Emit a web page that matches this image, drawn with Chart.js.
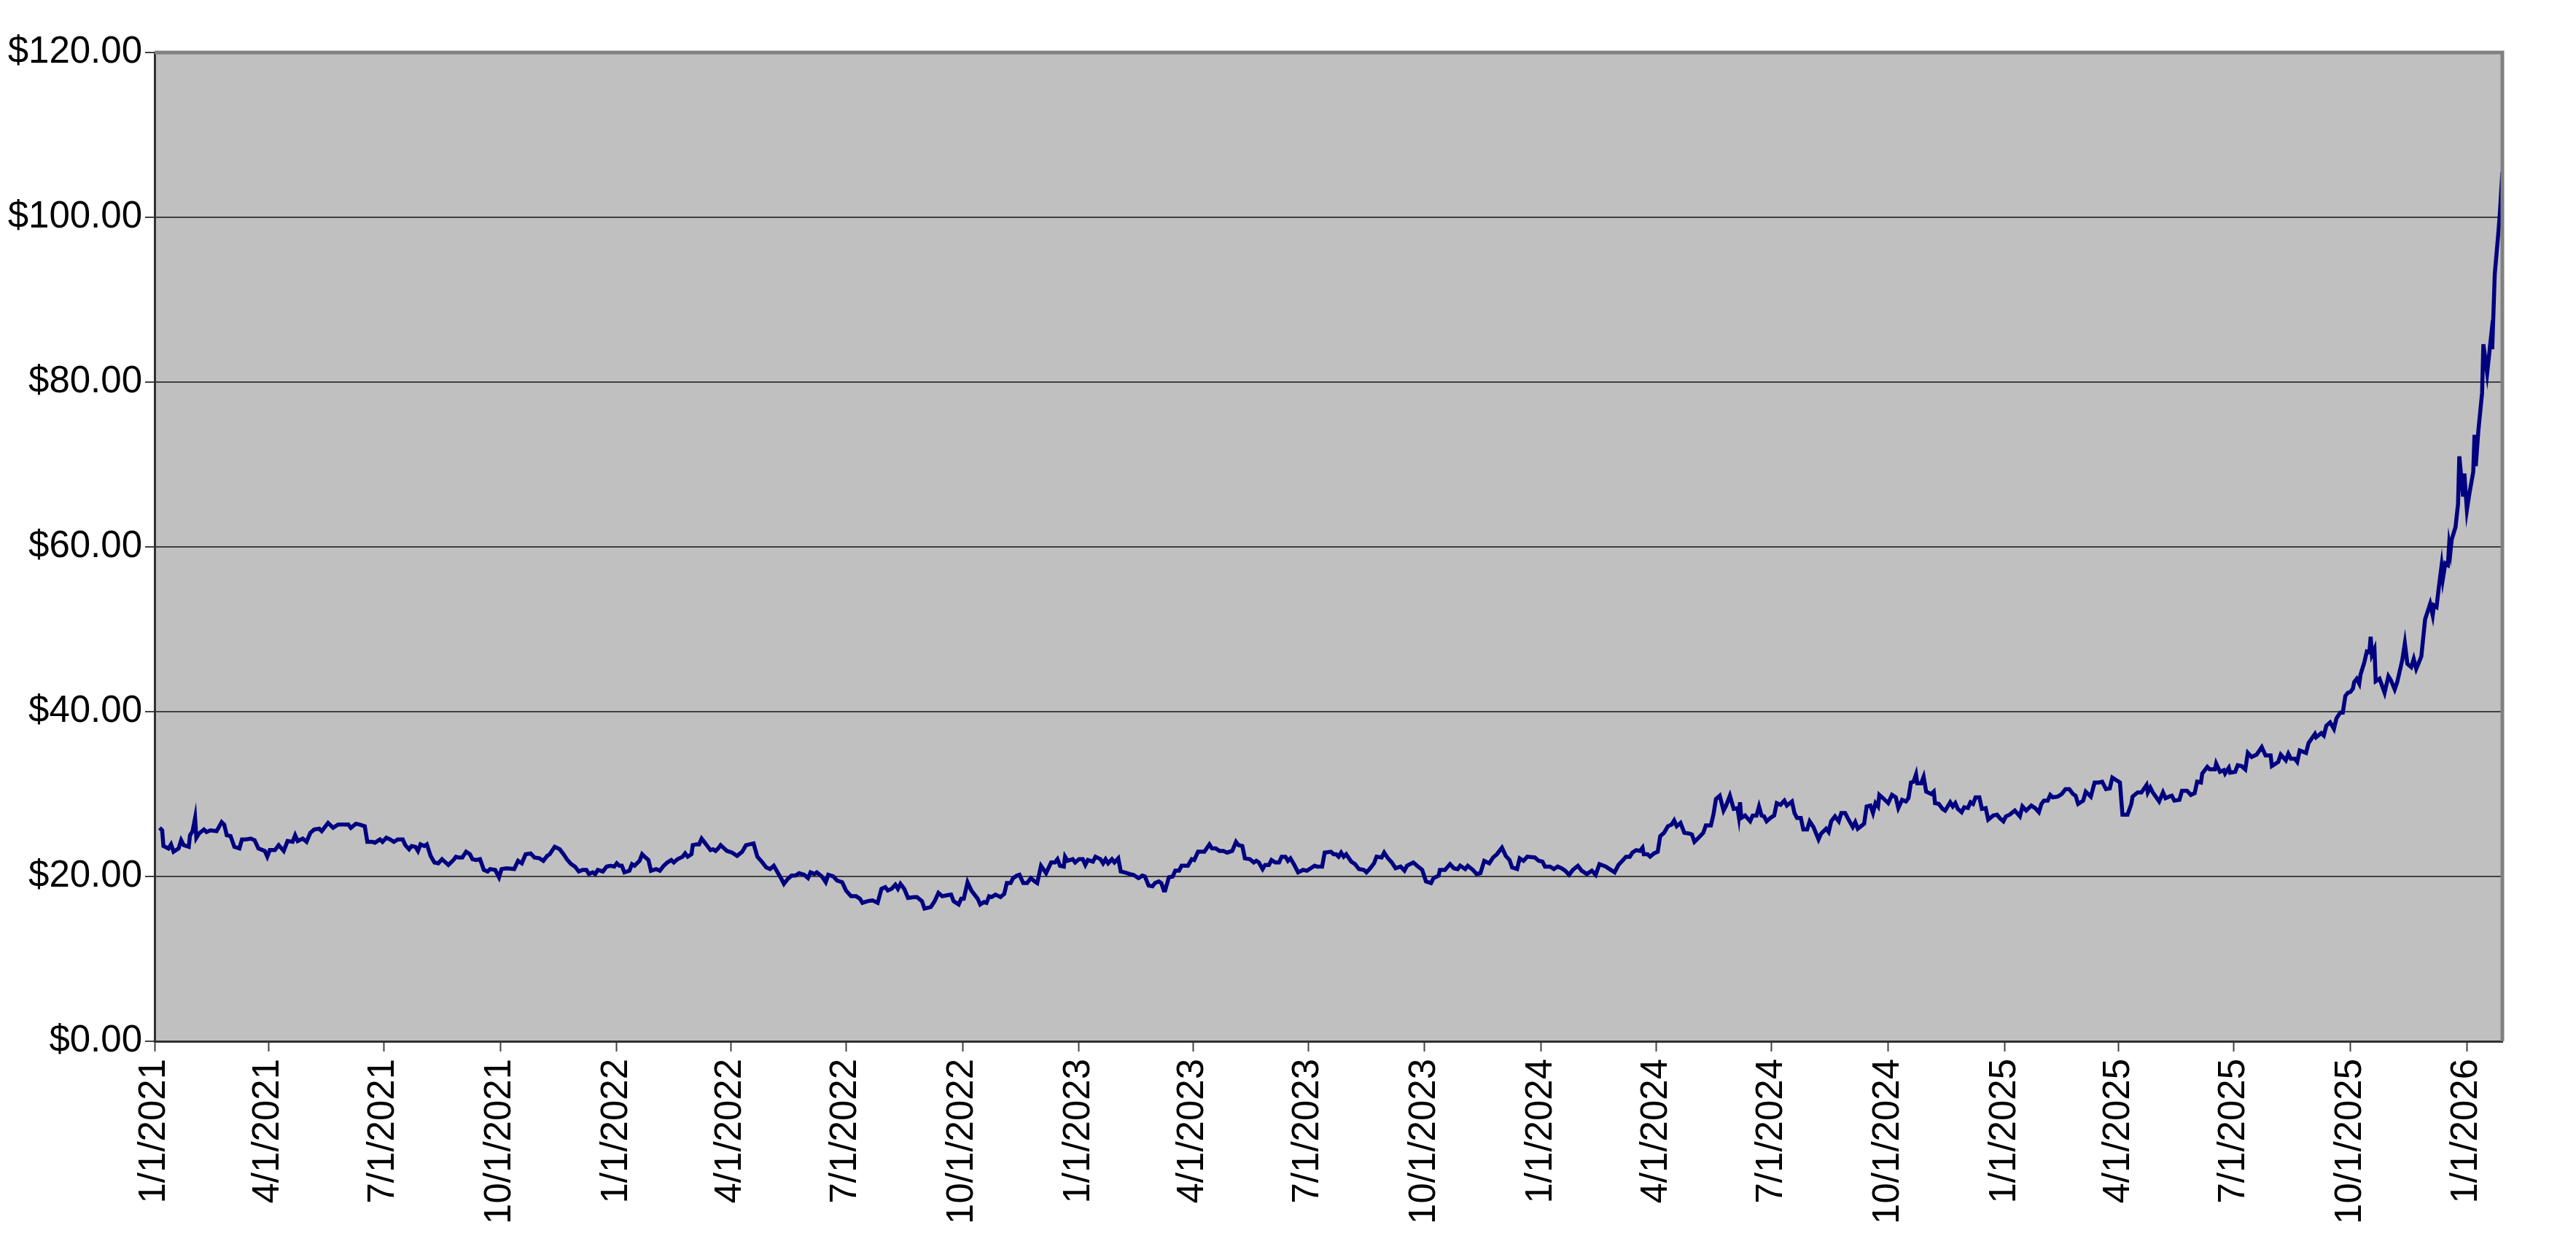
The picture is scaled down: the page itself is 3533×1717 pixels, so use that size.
<!DOCTYPE html>
<html>
<head>
<meta charset="utf-8">
<script src="https://cdn.jsdelivr.net/npm/chart.js@4.4.1/dist/chart.umd.min.js"></script>
<style>
  html, body { margin: 0; padding: 0; background: #ffffff; }
  canvas { display: block; }
</style>
</head>
<body>
<canvas id="pricechart" width="3533" height="1717"></canvas>
<script>
// daily closes; x = days since 1/1/2021
const days = [
  4, 6, 7, 11, 13, 15, 19, 21, 23, 27,
  28, 30, 32, 33, 35, 39, 41, 44, 49, 53,
  55, 57, 60, 63, 67, 69, 72, 76, 79, 82,
  87, 89, 91, 95, 98, 102, 105, 109, 111, 113,
  117, 120, 123, 126, 130, 132, 137, 141, 145, 149,
  153, 155, 159, 162, 166, 168, 172, 174, 178, 180,
  183, 186, 189, 192, 196, 198, 201, 203, 206, 208,
  210, 213, 215, 218, 221, 224, 227, 232, 236, 238,
  240, 243, 246, 249, 251, 254, 257, 260, 263, 265,
  269, 272, 274, 278, 284, 287, 290, 293, 297, 300,
  304, 307,
  310, 312, 316, 320, 323, 326, 329, 332, 335, 338,
  341, 343, 346, 348, 350, 354, 357, 360, 363, 365,
  367, 369, 371, 375, 377, 379, 383, 385, 387, 390,
  392, 396, 399, 402, 405, 408, 410, 413, 417, 419,
  421, 424, 425, 428, 430, 432, 434, 436, 439, 441,
  443, 445, 447, 452, 456, 460, 464, 467, 470, 473,
  476, 480, 483, 486, 489, 492, 495, 497, 500, 503,
  506, 509, 513, 516, 518, 521, 523, 527, 530, 532,
  536, 539, 543, 546, 550, 554, 557, 559, 563, 567,
  571, 574, 577, 579, 582, 585, 587, 589, 592, 595,
  600, 602, 606, 608, 613, 616, 619, 622, 625,
  629, 631, 635, 637, 639, 642, 645, 648, 650, 652,
  655, 657, 659, 661, 664, 668, 671, 673, 676, 678,
  681, 683, 686, 689, 692, 695, 697, 700, 704, 708,
  711, 713, 715, 718, 719, 721, 725, 727, 730, 733,
  735, 737, 741, 743, 747, 749, 751, 753, 756, 758,
  761, 763, 766, 770, 773, 777, 780, 782, 785, 788,
  790, 793, 795, 797, 798, 801, 804, 806, 809, 811,
  816, 819, 821, 824, 829, 833, 835, 838, 841, 844,
  847, 851, 854, 856, 859, 861, 865, 868, 870, 872,
  875, 877, 880, 882, 885, 888, 890, 893, 895, 897,
  900, 903, 907, 910, 913, 916, 918, 922, 924, 929,
  931, 933, 935, 937, 939, 941,
  945, 948, 951, 955, 957, 960, 963, 965, 969, 971,
  974, 977, 980, 984, 987, 989, 994, 997, 1001, 1004,
  1008, 1010, 1014, 1015, 1019, 1023, 1026, 1029, 1031, 1035,
  1037, 1041, 1044, 1047, 1050, 1054, 1057, 1060, 1064, 1067,
  1070, 1072, 1076, 1078, 1081, 1084, 1090, 1093, 1096, 1098,
  1102, 1105, 1108, 1111, 1114, 1117, 1120, 1124, 1127, 1131,
  1135, 1138, 1141, 1146, 1149, 1153, 1156, 1159, 1162, 1165,
  1167, 1170, 1173, 1175, 1176, 1179, 1181, 1184, 1187, 1189,
  1192, 1195, 1198, 1200, 1202, 1205, 1208, 1212, 1214, 1216,
  1218, 1223, 1225, 1229, 1231, 1233, 1236, 1239, 1241, 1244,
  1247, 1250, 1251, 1252, 1253, 1256, 1260,
  1262, 1265, 1267, 1269, 1271, 1273, 1276, 1279, 1281, 1284,
  1287, 1289, 1293, 1295, 1297, 1300, 1302, 1305, 1307, 1310,
  1314, 1316, 1320, 1322, 1324, 1327, 1330, 1332, 1335, 1337,
  1341, 1343, 1345, 1350, 1352, 1355, 1357, 1359, 1361, 1362,
  1365, 1369, 1372, 1375, 1377, 1380, 1383, 1385, 1387, 1389,
  1391, 1392, 1395, 1397, 1399, 1403, 1405, 1406, 1409, 1412,
  1414, 1418, 1420, 1422, 1424, 1427, 1429, 1432, 1434, 1436,
  1438, 1441, 1443, 1446, 1448, 1452, 1455, 1457, 1460, 1462,
  1465, 1469, 1473, 1475, 1478, 1482, 1485, 1488, 1490, 1492,
  1495, 1497, 1499, 1503, 1506, 1509, 1512, 1515, 1517, 1519,
  1523, 1525, 1529, 1532, 1535, 1538, 1541, 1544, 1546, 1549,
  1552, 1554, 1558, 1561, 1562, 1566, 1569, 1573, 1574, 1576,
  1578, 1583, 1586, 1588, 1591, 1593, 1595, 1599, 1601, 1605,
  1608, 1611, 1613, 1616, 1617, 1621, 1623, 1627, 1628, 1631,
  1634, 1635, 1638, 1639, 1643, 1645, 1648, 1651, 1653, 1656,
  1660, 1664, 1667, 1671, 1672, 1677, 1679, 1683, 1685, 1687,
  1690, 1692, 1694, 1699, 1701, 1706, 1707, 1711, 1713, 1715,
  1718, 1721, 1723, 1726, 1728, 1730, 1732, 1734, 1736, 1737,
  1739, 1741, 1742, 1745, 1747, 1749, 1750, 1751, 1753, 1754,
  1757, 1761, 1764, 1766, 1769, 1771, 1775, 1777, 1779, 1782,
  1784, 1786, 1790, 1793, 1797, 1799, 1800, 1802, 1804, 1806,
  1807, 1809, 1811, 1812, 1813, 1814, 1817, 1819, 1820, 1823,
  1824, 1826, 1828, 1831, 1832, 1833, 1835, 1838, 1839, 1842,
  1845, 1846, 1848, 1851, 1852, 1854
];
const prices = [
  25.9, 25.6, 23.7, 23.4, 23.9, 23.0, 23.4, 24.4, 23.8, 23.6,
  25.0, 25.5, 27.1, 24.7, 25.2, 25.7, 25.4, 25.6, 25.5, 26.6,
  26.3, 25.0, 24.9, 23.6, 23.4, 24.5, 24.5, 24.6, 24.4, 23.4,
  23.1, 22.4, 23.2, 23.2, 23.8, 23.1, 24.3, 24.2, 25.0, 24.3,
  24.6, 24.2, 25.3, 25.7, 25.8, 25.5, 26.5, 25.9, 26.3, 26.3,
  26.3, 25.9, 26.4, 26.3, 26.1, 24.2, 24.2, 24.1, 24.5, 24.2,
  24.7, 24.5, 24.2, 24.5, 24.5, 23.8, 23.3, 23.7, 23.6, 23.1,
  23.9, 23.7, 23.9, 22.5, 21.7, 21.6, 22.1, 21.4, 22.0, 22.4,
  22.3, 22.3, 23.0, 22.7, 22.1, 22.0, 22.1, 20.8, 20.6, 20.9,
  20.8, 19.9, 20.9, 21.0, 20.9, 21.9, 21.6, 22.7, 22.8, 22.3,
  22.2, 21.9,
  22.5, 22.7, 23.6, 23.3, 22.7, 22.0, 21.5, 21.2, 20.6, 20.8,
  20.8, 20.3, 20.5, 20.3, 20.8, 20.6, 21.2, 21.3, 21.2, 21.6,
  21.3, 21.3, 20.5, 20.7, 21.5, 21.3, 21.9, 22.7, 22.4, 22.0,
  20.7, 20.9, 20.7, 21.3, 21.7, 22.0, 21.7, 22.1, 22.4, 22.8,
  22.4, 22.7, 23.8, 23.9, 23.9, 24.6, 24.2, 23.8, 23.2, 23.3,
  23.1, 23.4, 23.8, 23.1, 22.9, 22.5, 23.0, 23.8, 23.9, 24.0,
  22.4, 21.7, 21.1, 20.9, 21.3, 20.5, 19.7, 19.1, 19.7, 20.1,
  20.1, 20.4, 20.2, 19.8, 20.5, 20.3, 20.5, 20.0, 19.3, 20.2,
  20.0, 19.5, 19.3, 18.3, 17.6, 17.6, 17.3, 16.8, 17.0, 17.1,
  16.8, 18.5, 18.7, 18.3, 18.5, 19.0, 18.5, 19.1, 18.5, 17.4,
  17.5, 17.5, 17.0, 16.1, 16.3, 17.0, 18.0, 17.6, 17.7,
  17.8, 17.0, 16.6, 17.3, 17.3, 19.3, 18.3, 17.7, 17.3, 16.6,
  16.9, 16.8, 17.6, 17.5, 17.8, 17.5, 17.9, 19.2, 19.2, 19.8,
  20.1, 20.2, 19.2, 19.2, 19.8, 19.4, 19.2, 21.3, 20.4, 21.7,
  21.7, 22.1, 21.3, 21.2, 22.4, 21.9, 22.1, 21.7, 22.1, 22.1,
  21.4, 22.0, 21.8, 22.4, 22.1, 21.6, 22.1, 21.6, 22.1, 21.7,
  22.2, 20.6, 20.5, 20.3, 20.2, 19.8, 20.1, 20.0, 18.9, 18.8,
  19.2, 19.4, 19.2, 18.3, 18.3, 19.9, 20.0, 20.7, 20.7, 21.3,
  21.3, 22.1, 22.0, 23.0, 23.0, 23.9, 23.4, 23.4, 23.1, 23.1,
  22.9, 23.1, 24.2, 23.8, 23.7, 22.2, 22.1, 21.7, 21.9, 21.7,
  20.9, 21.4, 21.4, 22.0, 21.7, 21.7, 22.4, 22.4, 21.9, 22.2,
  21.4, 20.5, 20.8, 20.7, 21.0, 21.3, 21.2, 21.2, 22.9, 23.0,
  22.7, 22.7, 22.4, 22.9, 22.4, 22.7,
  21.8, 21.5, 20.9, 20.8, 20.5, 21.0, 21.6, 22.4, 22.3, 22.9,
  22.2, 21.7, 21.0, 21.2, 20.7, 21.3, 21.7, 21.3, 20.8, 19.4,
  19.2, 19.8, 20.1, 20.8, 20.8, 21.5, 21.0, 20.9, 21.3, 20.9,
  21.3, 20.8, 20.3, 20.4, 21.9, 21.6, 22.3, 22.7, 23.5, 22.5,
  22.0, 21.1, 20.9, 22.2, 21.9, 22.4, 22.3, 21.9, 21.8, 21.2,
  21.2, 20.9, 21.2, 21.0, 20.7, 20.2, 20.8, 21.3, 20.7, 20.3,
  20.7, 20.2, 21.5, 21.2, 20.9, 20.5, 21.4, 21.9, 22.4, 22.4,
  22.9, 23.2, 23.1, 23.5, 22.7, 22.7, 22.4, 22.8, 23.0, 24.9,
  25.3, 26.1, 26.3, 26.8, 26.1, 26.5, 25.3, 25.2, 25.1, 24.2,
  24.5, 25.3, 26.2, 26.2, 27.5, 29.4, 29.8, 28.0, 28.6, 29.8,
  28.2, 28.3, 27.3, 29.0, 27.1, 27.4, 26.7,
  27.4, 27.4, 28.5, 27.4, 27.3, 26.7, 27.1, 27.4, 28.9, 28.7,
  29.2, 28.6, 29.1, 27.7, 27.1, 27.1, 25.7, 25.7, 26.7, 26.0,
  24.5, 25.2, 25.8, 25.4, 26.7, 27.3, 26.7, 27.7, 27.7, 27.1,
  26.0, 26.6, 25.8, 26.4, 28.5, 28.6, 27.7, 28.9, 28.5, 29.9,
  29.5, 28.9, 29.9, 29.6, 28.3, 29.3, 29.1, 29.5, 31.4, 31.5,
  32.4, 31.3, 31.3, 32.1, 30.3, 30.0, 30.3, 28.9, 28.8, 28.2,
  28.0, 29.0, 28.5, 28.9, 28.2, 27.8, 28.4, 28.3, 29.0, 28.8,
  29.6, 29.6, 28.2, 28.3, 26.9, 27.4, 27.5, 27.1, 26.7, 27.3,
  27.5, 28.0, 27.3, 28.5, 28.0, 28.6, 28.3, 27.8, 28.8, 29.2,
  29.2, 29.9, 29.6, 29.7, 30.0, 30.6, 30.6, 30.0, 29.8, 28.8,
  29.2, 30.3, 29.7, 31.4, 31.4, 31.5, 30.6, 30.7, 32.0, 31.7,
  31.4, 27.5, 27.5, 28.8, 29.7, 30.2, 30.2, 31.1, 30.2, 30.8,
  30.2, 29.1, 30.2, 29.5, 29.7, 29.8, 29.2, 29.3, 30.4, 30.4,
  29.9, 30.1, 31.5, 31.4, 32.5, 33.3, 33.0, 33.0, 33.7, 32.7,
  32.9, 32.5, 33.2, 32.6, 32.7, 33.5, 33.4, 33.0, 35.0, 34.5,
  34.8, 35.7, 34.7, 34.7, 33.4, 33.9, 34.8, 34.1, 34.9, 34.3,
  34.3, 33.9, 35.3, 35.0, 36.2, 37.3, 36.9, 37.4, 37.1, 38.3,
  38.7, 37.9, 39.2, 39.9, 39.9, 41.9, 42.3, 42.4, 42.8, 43.6,
  44.0, 43.4, 44.5, 46.0, 47.3, 47.2, 49.1, 46.9, 47.6, 43.7,
  44.0, 42.3, 44.3, 43.8, 42.7, 43.6, 46.3, 48.3, 45.8, 45.4,
  46.4, 45.2, 46.7, 51.2, 53.1, 51.7, 52.9, 52.7, 55.3, 57.7,
  56.1, 58.0, 57.8, 60.3, 59.4, 60.9, 62.4, 65.2, 71.0, 66.1,
  68.9, 64.5, 66.5, 69.1, 73.6, 69.8, 74.0, 78.7, 84.6, 81.1,
  85.4, 84.0, 93.1, 98.4, 100.4, 105.5
];

const tickLabels = [
  "1/1/2021", "4/1/2021", "7/1/2021", "10/1/2021",
  "1/1/2022", "4/1/2022", "7/1/2022", "10/1/2022",
  "1/1/2023", "4/1/2023", "7/1/2023", "10/1/2023",
  "1/1/2024", "4/1/2024", "7/1/2024", "10/1/2024",
  "1/1/2025", "4/1/2025", "7/1/2025", "10/1/2025",
  "1/1/2026"
];

const startUTC = Date.UTC(2021, 0, 1);
function dayOf(label) {
  const [m, d, y] = label.split("/").map(Number);
  return Math.round((Date.UTC(y, m - 1, d) - startUTC) / 86400000);
}
const tickDays = tickLabels.map(dayOf);
const lastDay = days[days.length - 1];

const axisFont = { family: "'Liberation Sans', Arial, sans-serif", size: 51 };

// grey plot area plus the grey frame on top and right, Excel style
const plotFrame = {
  id: "plotFrame",
  beforeDraw(chart) {
    const { ctx, chartArea: a } = chart;
    ctx.save();
    ctx.fillStyle = "#c0c0c0";
    ctx.fillRect(a.left, a.top, a.right - a.left, a.bottom - a.top);
    ctx.restore();
  },
  afterDraw(chart) {
    const { ctx, chartArea: a } = chart;
    ctx.save();
    ctx.strokeStyle = "#808080";
    ctx.lineWidth = 5;
    ctx.beginPath();
    ctx.moveTo(a.left, a.top);
    ctx.lineTo(a.right, a.top);
    ctx.lineTo(a.right, a.bottom);
    ctx.stroke();
    ctx.restore();
  }
};

new Chart("pricechart", {
  type: "line",
  data: {
    datasets: [{
      data: days.map((d, i) => ({ x: d, y: prices[i] })),
      borderColor: "#000080",
      borderWidth: 5.5,
      pointRadius: 0,
      tension: 0,
      fill: false
    }]
  },
  options: {
    responsive: false,
    devicePixelRatio: 1,
    animation: false,
    layout: { padding: { top: 72, right: 101, left: 0, bottom: 0 } },
    plugins: { legend: { display: false }, tooltip: { enabled: false } },
    scales: {
      x: {
        type: "linear",
        min: 0,
        max: lastDay,
        afterBuildTicks: s => { s.ticks = tickDays.map(v => ({ value: v })); },
        afterFit: s => { s.height = 1717 - 1428; },
        grid: { drawOnChartArea: false, drawTicks: true, tickLength: 14, tickWidth: 2, tickColor: "#404040" },
        border: { display: true, color: "#303030", width: 3 },
        ticks: {
          autoSkip: false,
          minRotation: 90,
          maxRotation: 90,
          padding: 10,
          color: "#000000",
          font: axisFont,
          callback: (v, i) => tickLabels[i]
        }
      },
      y: {
        min: 0,
        max: 120,
        afterFit: s => { s.width = 212; },
        grid: { color: "#404040", lineWidth: 2, tickLength: 13, tickColor: "#404040" },
        border: { display: true, color: "#303030", width: 3 },
        ticks: {
          stepSize: 20,
          padding: 4,
          color: "#000000",
          font: axisFont,
          callback: v => "$" + v.toFixed(2)
        }
      }
    }
  },
  plugins: [plotFrame]
});
</script>
</body>
</html>
